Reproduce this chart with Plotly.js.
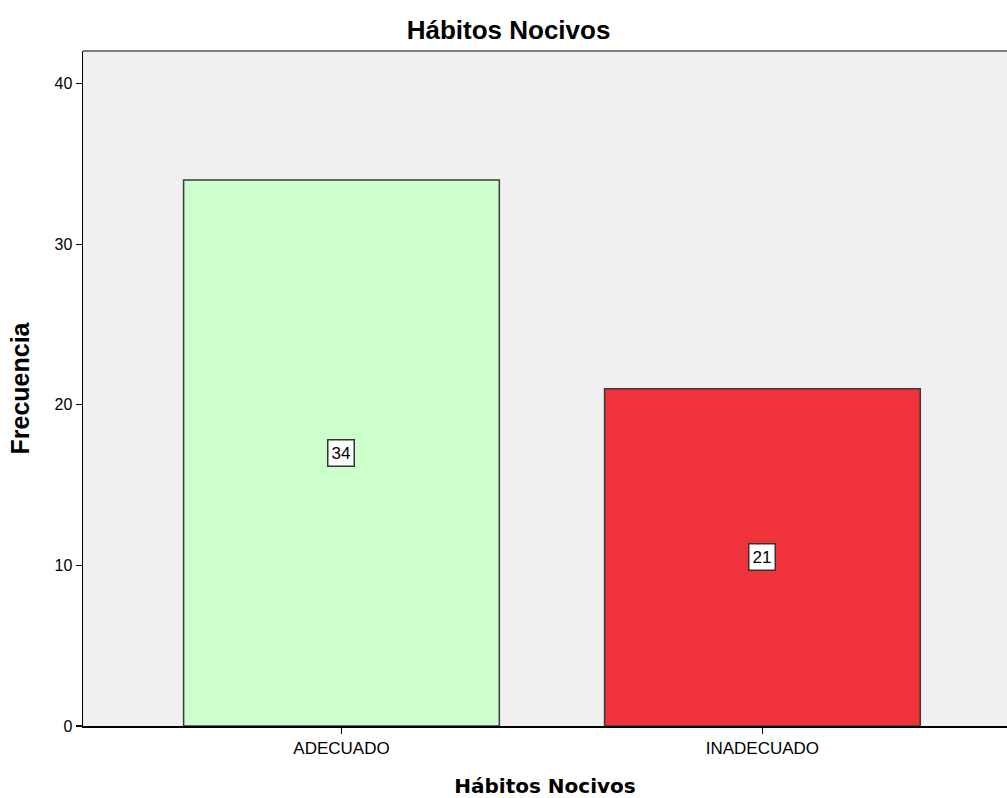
<!DOCTYPE html>
<html>
<head>
<meta charset="utf-8">
<script src="https://cdn.plot.ly/plotly-3.0.1.min.js"></script>
<style>
html,body{margin:0;padding:0;background:#fff;}
#chart{width:1007px;height:798px;}
</style>
</head>
<body>
<div id="chart"></div>
<script>
const categories = ["ADECUADO", "INADECUADO"];
const frequencies = [34, 21];
const barColors = ["#ccffcc", "#f0323a"];
const yTicks = [0, 10, 20, 30, 40];

const trace = {
  type: "bar",
  x: [0, 1],
  y: frequencies,
  width: 0.75,
  marker: {color: barColors, line: {color: "#3a3a3a", width: 1.5}},
  hoverinfo: "skip"
};

const annotations = frequencies.map((v, i) => ({
  x: i, y: v / 2, xref: "x", yref: "y",
  text: String(v), showarrow: false,
  font: {family: "Liberation Sans, Arial, sans-serif", size: 17, color: "#000"},
  bgcolor: "#ffffff", bordercolor: "#333333", borderwidth: 1.5, borderpad: 3
}));

const layout = {
  width: 1007, height: 798,
  margin: {l: 83, r: 0, t: 51, b: 72, pad: 0},
  paper_bgcolor: "#ffffff",
  plot_bgcolor: "#f0f0f0",
  showlegend: false,
  bargap: 0,
  title: {
    text: "Hábitos Nocivos",
    font: {family: "Liberation Sans, Arial, sans-serif", size: 26, color: "#000", weight: "bold"},
    x: 0.505, xref: "container", xanchor: "center", y: 0.962, yref: "container", yanchor: "middle"
  },
  xaxis: {
    range: [-0.614, 1.581],
    tickmode: "array", tickvals: [0, 1], ticktext: categories,
    ticks: "outside", ticklen: 6, tickwidth: 1.2, tickcolor: "#000",
    showline: true, linecolor: "#000", linewidth: 1.5,
    showgrid: false, zeroline: false, fixedrange: true,
    tickfont: {family: "Liberation Sans, Arial, sans-serif", size: 17, color: "#000"},
    title: {text: "Hábitos Nocivos", standoff: 29,
      font: {family: "DejaVu Sans, sans-serif", size: 20, color: "#000", weight: "bold"}}
  },
  yaxis: {
    range: [0, 42.03],
    tickmode: "array", tickvals: yTicks, ticktext: yTicks.map(String),
    ticks: "outside", ticklen: 6, tickwidth: 1.2, tickcolor: "#000",
    showline: true, linecolor: "#000", linewidth: 1.5,
    showgrid: false, zeroline: false, fixedrange: true,
    tickfont: {family: "Liberation Sans, Arial, sans-serif", size: 16, color: "#000"},
    title: {text: "Frecuencia", standoff: 18,
      font: {family: "Liberation Sans, Arial, sans-serif", size: 25, color: "#000", weight: "bold"}}
  },
  shapes: [{type: "line", xref: "paper", yref: "paper", x0: 0, x1: 1, y0: 1, y1: 1,
    line: {color: "#555555", width: 1.5}}],
  annotations: annotations
};

Plotly.newPlot("chart", [trace], layout, {displayModeBar: false, staticPlot: true});
</script>
</body>
</html>
